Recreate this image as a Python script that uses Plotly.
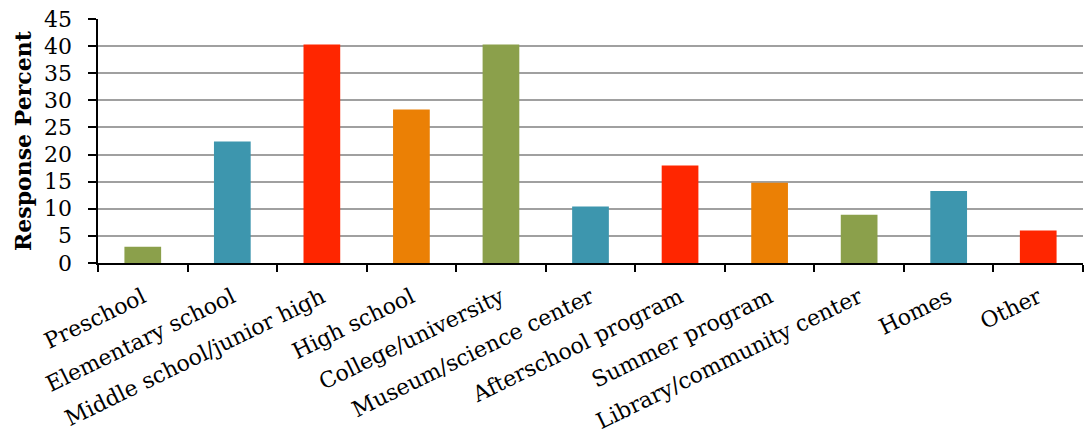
import plotly.graph_objects as go

categories = [
    "Preschool", "Elementary school", "Middle school/junior high", "High school",
    "College/university", "Museum/science center", "Afterschool program",
    "Summer program", "Library/community center", "Homes", "Other",
]
response_percent = [3.0, 22.4, 40.3, 28.3, 40.3, 10.4, 18.0, 14.8, 8.9, 13.3, 6.0]
bar_colors = [
    "#8BA04B", "#3D96AE", "#FF2600", "#EB8005", "#8BA04B", "#3D96AE",
    "#FF2600", "#EB8005", "#8BA04B", "#3D96AE", "#FF2600",
]
y_ticks = [0, 5, 10, 15, 20, 25, 30, 35, 40, 45]
y_title = "Response Percent"

font_family = "DejaVu Serif"
label_font = dict(family=font_family, size=22, color="black")

fig = go.Figure(
    go.Bar(
        x=categories,
        y=response_percent,
        marker=dict(color=bar_colors, line=dict(width=0)),
        width=0.41,
    )
)

# y tick labels placed on the y scale, set a little further from the axis
for v in y_ticks:
    fig.add_annotation(
        x=0, xref="paper", y=v, yref="y",
        text=str(v), showarrow=False,
        xanchor="right", yanchor="middle",
        xshift=-24, font=label_font,
    )

# rotated y axis title
fig.add_annotation(
    x=0, xref="paper", y=0.5, yref="paper",
    text=f"<b>{y_title}</b>", showarrow=False, textangle=-90,
    xanchor="center", yanchor="middle",
    xshift=-75, font=label_font,
)

fig.update_layout(
    width=1085,
    height=435,
    margin=dict(l=98, r=2, t=19, b=172),
    paper_bgcolor="white",
    plot_bgcolor="white",
    showlegend=False,
    font=dict(family=font_family, color="black", size=22),
)

fig.update_xaxes(
    type="category",
    automargin=False,
    tickangle=-26,
    tickson="boundaries",
    ticks="outside",
    ticklen=7,
    tickwidth=2,
    tickcolor="black",
    showline=True,
    linecolor="black",
    linewidth=2,
    showgrid=False,
    ticklabelstandoff=11,
    tickfont=dict(family=font_family, size=22, color="black"),
)

fig.update_yaxes(
    range=[0, 45],
    tickvals=y_ticks,
    showticklabels=False,
    automargin=False,
    ticks="outside",
    ticklen=8,
    tickwidth=2,
    tickcolor="black",
    showline=True,
    linecolor="black",
    linewidth=2,
    showgrid=True,
    gridcolor="#A0A0A0",
    gridwidth=2,
    zeroline=False,
)

fig.write_html("out.html")
